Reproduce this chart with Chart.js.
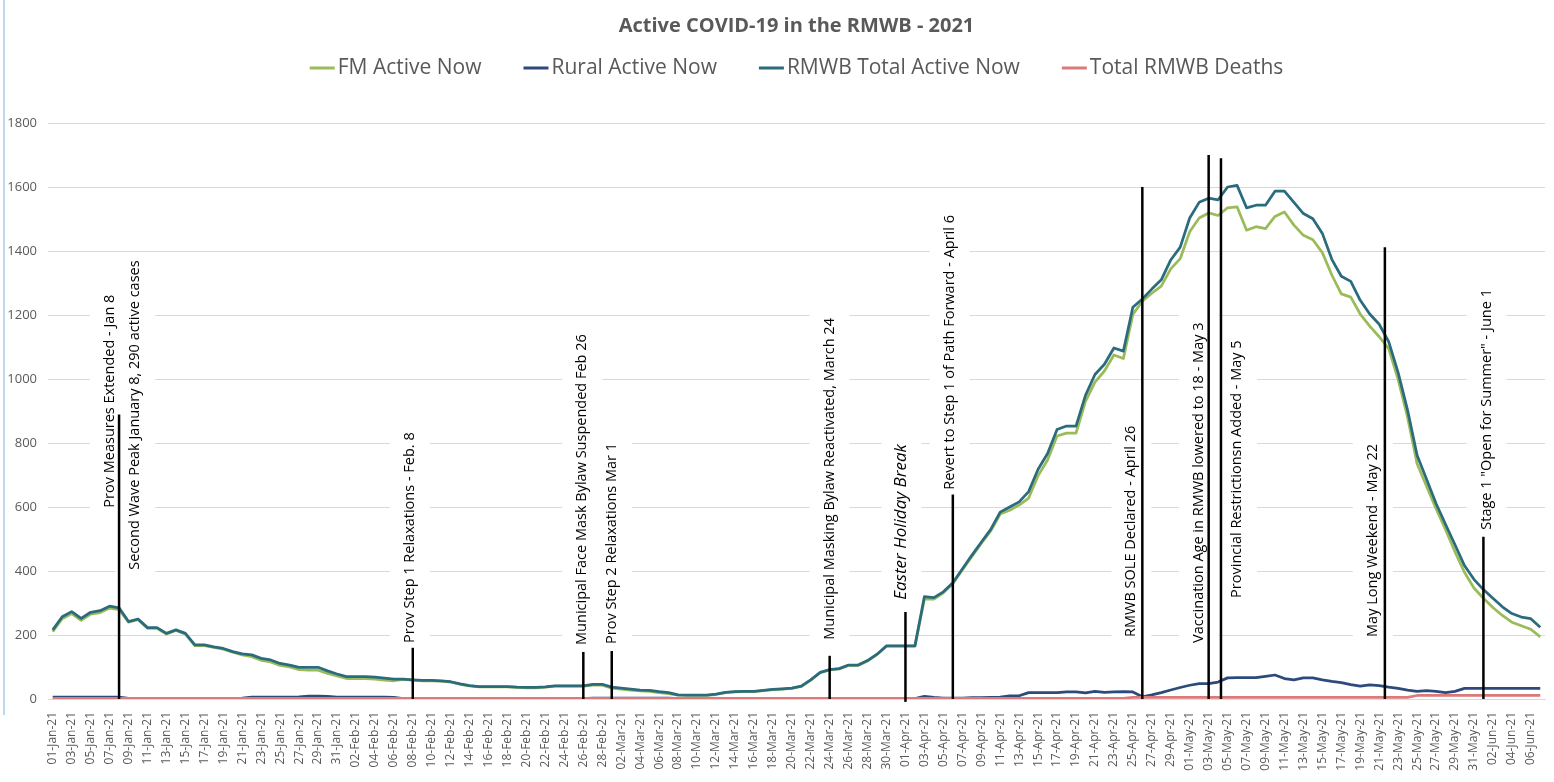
<!DOCTYPE html>
<html>
<head>
<meta charset="utf-8">
<title>Active COVID-19 in the RMWB - 2021</title>
<script src="https://cdn.jsdelivr.net/npm/chart.js@4.4.1/dist/chart.umd.min.js"></script>
<style>
  html, body { margin: 0; padding: 0; background: #fff; }
  #wrap { width: 1554px; height: 782px; }
</style>
</head>
<body>
<div id="wrap"><canvas id="covidChart" width="1554" height="782"></canvas></div>
<script>
// categories: one per day, 01-Jan-21 .. 07-Jun-21
var months = ['Jan', 'Feb', 'Mar', 'Apr', 'May', 'Jun'];
var monthDays = [31, 28, 31, 30, 31, 7];
var days = [];
months.forEach(function (m, k) {
    for (var d = 1; d <= monthDays[k]; d++) {
        days.push((d < 10 ? '0' : '') + d + '-' + m + '-21');
    }
});

// series
var fmActive = [
    210, 251, 267, 246, 265, 270, 284, 279, 240, 248,
    221, 221, 203, 214, 203, 167, 167, 161, 156, 146,
    138, 132, 121, 116, 105, 100, 92, 90, 90, 80,
    72, 64, 64, 64, 62, 59, 57, 61, 59, 57,
    57, 56, 53, 46, 41, 38, 38, 38, 38, 36,
    35, 35, 37, 40, 40, 40, 40, 43, 43, 34,
    31, 28, 25, 24, 20, 17, 12, 11, 11, 11,
    14, 20, 22, 23, 23, 26, 29, 31, 33, 39,
    59, 82, 91, 94, 105, 105, 119, 139, 165, 165,
    165, 165, 312, 312, 332, 360, 403, 445, 486, 525,
    578, 590, 606, 628, 698, 747, 822, 831, 831, 930,
    990, 1025, 1075, 1064, 1202, 1243, 1268, 1290, 1344, 1376,
    1460, 1503, 1519, 1511, 1535, 1538, 1465, 1476, 1470, 1508,
    1522, 1481, 1449, 1435, 1395, 1325, 1266, 1256, 1203, 1165,
    1132, 1095, 999, 880, 735, 665, 595, 530, 460, 396,
    347, 315, 286, 261, 240, 229, 218, 194
];
var ruralActive = [
    6, 6, 6, 6, 6, 6, 6, 6, 2, 2,
    2, 2, 2, 2, 2, 2, 2, 2, 2, 2,
    3, 6, 6, 6, 6, 6, 7, 9, 9, 8,
    6, 6, 6, 6, 6, 6, 5, 1, 1, 1,
    1, 1, 1, 1, 1, 1, 1, 1, 1, 1,
    1, 1, 1, 1, 1, 1, 1, 3, 3, 3,
    3, 3, 3, 3, 3, 3, 1, 1, 1, 1,
    1, 1, 1, 1, 1, 1, 1, 1, 1, 1,
    1, 1, 1, 1, 1, 1, 1, 1, 1, 1,
    1, 1, 8, 5, 3, 3, 3, 4, 4, 5,
    6, 10, 10, 20, 20, 20, 20, 22, 22, 19,
    24, 21, 22, 23, 22, 7, 13, 20, 28, 36,
    43, 48, 48, 53, 66, 67, 67, 67, 71, 75,
    64, 60, 66, 66, 60, 55, 51, 45, 40, 44,
    42, 37, 33, 28, 24, 26, 24, 20, 24, 33,
    33, 33, 33, 33, 33, 33, 33, 33
];
var totalActive = [
    216, 257, 273, 252, 271, 276, 290, 285, 242, 250,
    223, 223, 205, 216, 205, 169, 169, 163, 158, 148,
    141, 138, 127, 122, 111, 106, 99, 99, 99, 88,
    78, 70, 70, 70, 68, 65, 62, 62, 60, 58,
    58, 57, 54, 47, 42, 39, 39, 39, 39, 37,
    36, 36, 38, 41, 41, 41, 41, 46, 46, 37,
    34, 31, 28, 27, 23, 20, 13, 12, 12, 12,
    15, 21, 23, 24, 24, 27, 30, 32, 34, 40,
    60, 83, 92, 95, 106, 106, 120, 140, 166, 166,
    166, 166, 320, 317, 335, 363, 406, 449, 490, 530,
    584, 600, 616, 648, 718, 767, 842, 853, 853, 949,
    1014, 1046, 1097, 1087, 1224, 1250, 1281, 1310, 1372, 1412,
    1503, 1552, 1565, 1560, 1600, 1605, 1535, 1543, 1543, 1587,
    1587, 1552, 1517, 1501, 1455, 1374, 1321, 1305, 1246, 1203,
    1171, 1117, 1020, 902, 762, 687, 611, 546, 482, 417,
    374, 342, 315, 288, 267, 256, 251, 224
];
var totalDeaths = [
    2, 2, 2, 2, 2, 2, 2, 2, 2, 2, 2, 2, 2, 2, 2, 2, 2, 2, 2, 2,
    2, 2, 2, 2, 2, 2, 2, 2, 2, 2, 2, 2, 2, 2, 2, 2, 2, 2, 2, 2,
    2, 2, 2, 2, 2, 2, 2, 2, 2, 2, 2, 2, 2, 2, 2, 2, 2, 2, 2, 2,
    2, 2, 2, 2, 2, 2, 2, 2, 2, 2, 2, 2, 2, 2, 2, 2, 2, 2, 2, 2,
    2, 2, 2, 2, 2, 2, 2, 2, 2, 2, 2, 2, 2, 2, 2, 2, 2, 2, 2, 2,
    2, 2, 2, 2, 2, 2, 2, 2, 2, 2, 2, 2, 2, 2, 5, 5, 5, 5, 5, 5,
    5, 5, 5, 5, 5, 5, 5, 5, 5, 5, 5, 5, 5, 5, 5, 5, 5, 5, 5, 5,
    5, 5, 5, 5, 11, 11, 11, 11, 11, 11, 11, 11, 11, 11, 11, 11, 11, 11
];

var yTicks = [0, 200, 400, 600, 800, 1000, 1200, 1400, 1600, 1800];

// event markers: day index, top of the marker line (in cases), labels
var notes = [
    { day: 7, top: 889, labels: [
        { text: 'Prov Measures Extended - Jan 8', dx: -9, from: 598 },
        { text: 'Second Wave Peak January 8, 290 active cases', dx: 16, from: 404 }] },
    { day: 38, top: 160, labels: [{ text: 'Prov Step 1 Relaxations - Feb. 8', dx: -3, from: 175 }] },
    { day: 56, top: 147, labels: [{ text: 'Municipal Face Mask Bylaw Suspended Feb 26', dx: -1, from: 169 }] },
    { day: 59, top: 150, labels: [{ text: 'Prov Step 2 Relaxations Mar 1', dx: 0, from: 172 }] },
    { day: 82, top: 135, labels: [{ text: 'Municipal Masking Bylaw Reactivated, March 24', dx: 0, from: 185 }] },
    { day: 90, top: 272, bottom: -9, labels: [{ text: 'Easter Holiday Break', dx: -4, from: 310, italic: true }] },
    { day: 95, top: 639, labels: [{ text: 'Revert to Step 1 of Path Forward - April 6', dx: -3, from: 654 }] },
    { day: 115, top: 1600, labels: [{ text: 'RMWB SOLE Declared - April 26', dx: -11, from: 194 }] },
    { day: 122, top: 1700, labels: [{ text: 'Vaccination Age in RMWB lowered to 18 - May 3', dx: -10, from: 175 }] },
    { day: 123.3, top: 1690, labels: [{ text: 'Provincial Restrictionsn Added - May 5', dx: 16, from: 316 }] },
    { day: 140.6, top: 1412, labels: [{ text: 'May Long Weekend - May 22', dx: -12, from: 194 }] },
    { day: 151, top: 507, labels: [{ text: 'Stage 1 "Open for Summer" - June 1', dx: 3, from: 529 }] }
];

var grey = '#595959';
Chart.defaults.font.family = "'Open Sans', sans-serif";

function noteFont(l) {
    return l.italic ? 'italic 17px "Open Sans"' : '14.5px "Open Sans"';
}

var eventMarkers = {
    id: 'eventMarkers',
    beforeDatasetsDraw: function (chart) {
        // white label boxes hide the gridlines behind the text
        var ctx = chart.ctx, xs = chart.scales.x, ys = chart.scales.y;
        ctx.save();
        ctx.fillStyle = '#fff';
        notes.forEach(function (n) {
            n.labels.forEach(function (l) {
                ctx.font = noteFont(l);
                var w = ctx.measureText(l.text).width;
                var cx = xs.getPixelForValue(n.day) + l.dx;
                var by = ys.getPixelForValue(l.from);
                ctx.fillRect(cx - 20, by - w - 8, 40, w + 14);
            });
        });
        ctx.restore();
    },
    afterDatasetsDraw: function (chart) {
        var ctx = chart.ctx, xs = chart.scales.x, ys = chart.scales.y;
        ctx.save();
        ctx.strokeStyle = '#000';
        ctx.lineWidth = 2.5;
        notes.forEach(function (n) {
            var px = xs.getPixelForValue(n.day);
            ctx.beginPath();
            ctx.moveTo(px, ys.getPixelForValue(n.top));
            ctx.lineTo(px, ys.getPixelForValue(n.bottom || 0));
            ctx.stroke();
        });
        ctx.fillStyle = '#000';
        ctx.textAlign = 'left';
        ctx.textBaseline = 'middle';
        notes.forEach(function (n) {
            n.labels.forEach(function (l) {
                ctx.save();
                ctx.font = noteFont(l);
                ctx.translate(xs.getPixelForValue(n.day) + l.dx, ys.getPixelForValue(l.from));
                ctx.rotate(-Math.PI / 2);
                ctx.fillText(l.text, 0, 0);
                ctx.restore();
            });
        });
        ctx.restore();
    }
};

var topLegend = {
    id: 'topLegend',
    beforeDraw: function (chart) {
        // light blue frame edge on the left
        var ctx = chart.ctx;
        ctx.save();
        ctx.strokeStyle = '#BDD7EE';
        ctx.lineWidth = 2;
        ctx.beginPath();
        ctx.moveTo(4, 0);
        ctx.lineTo(4, 715);
        ctx.stroke();
        ctx.restore();
    },
    afterDraw: function (chart) {
        var ctx = chart.ctx, area = chart.chartArea;
        var mark = 25, gap = 3, space = 42, y = 68;
        ctx.save();
        ctx.font = '21px "Open Sans"';
        var items = chart.data.datasets.map(function (ds) {
            return { text: ds.label, color: ds.borderColor, w: ctx.measureText(ds.label).width };
        });
        var total = space * (items.length - 1);
        items.forEach(function (it) { total += mark + gap + it.w; });
        var x = (area.left + area.right) / 2 - total / 2;
        ctx.textAlign = 'left';
        ctx.textBaseline = 'middle';
        items.forEach(function (it) {
            ctx.fillStyle = it.color;
            ctx.fillRect(x, y - 1.5, mark, 3);
            ctx.fillStyle = grey;
            ctx.fillText(it.text, x + mark + gap, y);
            x += mark + gap + it.w + space;
        });
        ctx.restore();
    }
};

function lineSet(label, data, color, order) {
    return {
        label: label,
        data: data,
        borderColor: color,
        backgroundColor: color,
        borderWidth: 2.75,
        pointRadius: 0,
        tension: 0,
        borderJoinStyle: 'round',
        order: order
    };
}

var covidChart = new Chart(document.getElementById('covidChart'), {
    type: 'line',
    data: {
        labels: days,
        datasets: [
            lineSet('FM Active Now', fmActive, '#9BBB59', 4),
            lineSet('Rural Active Now', ruralActive, '#2C4A7C', 3),
            lineSet('RMWB Total Active Now', totalActive, '#2A6B7D', 2),
            lineSet('Total RMWB Deaths', totalDeaths, '#DC7A7A', 1)
        ]
    },
    options: {
        responsive: false,
        animation: false,
        layout: { padding: { top: 12, left: 4, right: 9, bottom: 0 } },
        plugins: {
            legend: { display: false },
            tooltip: { enabled: false },
            title: {
                display: true,
                text: 'Active COVID-19 in the RMWB - 2021',
                fullSize: false,
                color: grey,
                font: { size: 20, weight: 'bold' },
                padding: { top: 2, bottom: 85 }
            }
        },
        scales: {
            x: {
                offset: true,
                grid: { display: false },
                border: { color: '#D9D9D9' },
                ticks: {
                    autoSkip: false,
                    minRotation: 90,
                    maxRotation: 90,
                    padding: 5,
                    color: grey,
                    font: { size: 12 },
                    callback: function (v, i) { return i % 2 === 0 ? days[i] : ''; }
                },
                afterFit: function (scale) {
                    scale.height = 83;
                    scale.paddingLeft = 0;
                    scale.paddingRight = 0;
                }
            },
            y: {
                min: yTicks[0],
                max: yTicks[yTicks.length - 1],
                afterBuildTicks: function (scale) {
                    scale.ticks = yTicks.map(function (v) { return { value: v }; });
                },
                grid: { color: '#D9D9D9', drawTicks: false },
                border: { display: false },
                ticks: {
                    padding: 11,
                    color: grey,
                    font: { size: 13 },
                    callback: function (v) { return String(v); }
                },
                afterFit: function (scale) { scale.width = 44; }
            }
        }
    },
    plugins: [eventMarkers, topLegend]
});
</script>
</body>
</html>
